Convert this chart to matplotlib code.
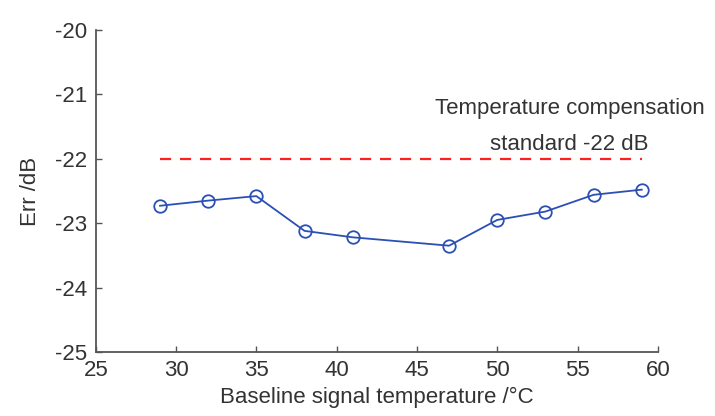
import matplotlib
matplotlib.use("Agg")
import matplotlib.pyplot as plt

# baseline temperature (°C) vs. error (dB)
temps = [29, 32, 35, 38, 41, 47, 50, 53, 56, 59]
err_db = [-22.73, -22.65, -22.58, -23.12, -23.22, -23.35, -22.95, -22.82, -22.56, -22.48]
standard_db = -22
x_ticks = [25, 30, 35, 40, 45, 50, 55, 60]
y_ticks = [-25, -24, -23, -22, -21, -20]

plt.rcParams['font.family'] = ['Liberation Sans', 'DejaVu Sans']
plt.rcParams['axes.unicode_minus'] = False
text_color = '#333333'

fig = plt.figure(figsize=(7.15, 4.16), dpi=100)
ax = fig.add_axes([0.134, 0.154, 0.786, 0.774])

ax.plot([temps[0], temps[-1]], [standard_db, standard_db], color='#ff2020',
        linestyle=(0, (5, 4)), linewidth=1.6)
ax.plot(temps, err_db, color='#2b4fb5', linewidth=1.3, marker='o',
        markersize=9, markerfacecolor='none', markeredgewidth=1.3)

ax.text(0.843, 0.70, 'Temperature compensation\nstandard -22 dB', transform=ax.transAxes,
        ha='center', va='center', fontsize=16, color=text_color, linespacing=1.95)

ax.set_xlim(25, 60)
ax.set_ylim(-25, -20)
ax.set_xticks(x_ticks)
ax.set_yticks(y_ticks)
ax.tick_params(direction='in', length=4, width=1, colors='#555555',
               labelcolor=text_color, labelsize=16)
ax.tick_params(axis='x', pad=6)
ax.tick_params(axis='y', pad=6)
for side in ['top', 'right']:
    ax.spines[side].set_visible(False)
for side in ['left', 'bottom']:
    ax.spines[side].set_color('#555555')
    ax.spines[side].set_linewidth(1.3)

ax.set_xlabel('Baseline signal temperature /\u00b0C', fontsize=16, color=text_color, labelpad=4)
ax.set_ylabel('Err /dB', fontsize=16, color=text_color, labelpad=10)

fig.savefig('out.png', dpi=100)
